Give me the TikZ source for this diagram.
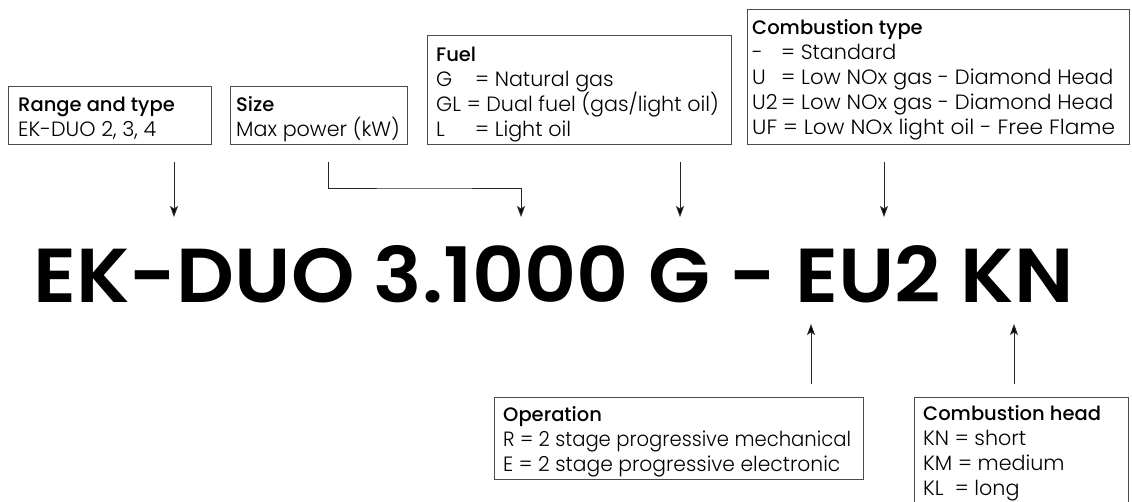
\documentclass[tikz,border=0pt]{standalone}
\usepackage{fontspec}
\setmainfont{Poppins}[UprightFont={* Light}, BoldFont={* Medium}]
\newfontfamily\bigfont{Poppins SemiBold}
\usepackage{graphicx}
\usetikzlibrary{arrows.meta}
\newlength\refw
\newlength\refb
\newlength\cwU
\newlength\cwK
\begin{document}
\settowidth\refw{\fontsize{10}{12}\selectfont GL = Dual fuel (gas/light oil)Max power (kW)U2 = Low NOx gas - Diamond HeadR = 2 stage progressive mechanical}
\settowidth\refb{\fontsize{10}{12}\selectfont\bfseries Range and typeCombustion typeCombustion head}
\pgfmathsetmacro\fsr{11700/\refw}
\pgfmathsetmacro\fsb{5050/\refb}
\newcommand\mytxt{\fontsize{\fsr}{25}\selectfont}
\newcommand\mytitle{\fontsize{\fsb}{25}\selectfont\bfseries}
\newcommand\hsc[2]{\scalebox{#1}[1]{#2}}
\settowidth\cwU{\mytxt U2\,}
\settowidth\cwK{\mytxt KN\ }
\begin{tikzpicture}[x=1pt,y=-1pt,
  frame/.style={draw=black!70, line width=0.9pt, anchor=north west, inner sep=0pt},
  lbl/.style={anchor=base west, inner sep=0pt, font=\mytxt},
  ttl/.style={anchor=base west, inner sep=0pt, font=\mytitle},
  arr/.style={draw=black!85, line width=1pt, -{Stealth[length=11pt,width=8pt,inset=2.5pt,fill=black]}},
]
\useasboundingbox (0,0) rectangle (1132,501);
\clip (0,0) rectangle (1132,501);

% boxes
\node[frame, minimum width=203pt, minimum height=58pt] (rangebox) at (8,86) {};
\node[frame, minimum width=177pt, minimum height=58pt] (sizebox) at (230,86) {};
\node[frame, minimum width=304pt, minimum height=109pt] (fuelbox) at (427,35) {};
\node[frame, minimum width=382pt, minimum height=135pt] (ctbox) at (747,9) {};
\node[frame, minimum width=214pt, minimum height=140pt] (chbox) at (914,397) {};
\node[frame, minimum width=369pt, minimum height=82pt] (opbox) at (494,397) {};

% range
\node[ttl] (rt) at (18,111) {Range and type};
\node[lbl] (r1t) at (18,136) {EK-DUO 2, 3, 4};
% size
\node[ttl] (st) at (236,111) {Size};
\node[lbl] (s1t) at (236,136) {Max power (kW)};
% fuel
\node[ttl] (ft) at (436,61) {Fuel};
\node[lbl] (f1) at (436,86) {\makebox[39pt][l]{G}= Natural gas};
\node[lbl] (f2) at (436,111) {GL = Dual fuel (gas/light oil)};
\node[lbl] (f3) at (436,136) {\makebox[39pt][l]{L}= Light oil};
% combustion type
\node[ttl] (ct) at (752,34) {Combustion type};
\node[lbl] (c1) at (752,59) {\makebox[\cwU][l]{-}= Standard};
\node[lbl] (c2) at (752,84) {\makebox[\cwU][l]{U}\hsc{1.02}{= Low NOx gas - Diamond Head}};
\node[lbl] (c3) at (752,109) {U2\,\hsc{1.02}{= Low NOx gas - Diamond Head}};
\node[lbl] (c4) at (752,134) {\hsc{1.05}{UF = Low NOx light oil - Free Flame}};
% operation
\node[ttl] (ot) at (503,421) {Operation};
\node[lbl] (o1) at (503,446) {\hsc{0.948}{R = 2 stage progressive mechanical}};
\node[lbl] (o2) at (503,471) {\hsc{0.98}{E = 2 stage progressive electronic}};
% combustion head
\node[ttl] (ht) at (923,420) {Combustion head};
\node[lbl] (h1) at (923,445) {KN = short};
\node[lbl] (h2) at (923,470) {KM = medium};
\node[lbl] (h3) at (923,495) {\makebox[\cwK][l]{KL}= long};

% model code
\node[anchor=base west, inner sep=0pt] (model) at (33,302)
  {\resizebox{1040pt}{57pt}{\bigfont EK-DUO 3.1000 G - EU2 KN}};

% connectors
\coordinate (a1s) at (174,162); \coordinate (a1e) at (174,217);
\coordinate (a2s) at (328,162); \coordinate (a2m) at (424,188); \coordinate (a2e) at (521,217);
\coordinate (a3s) at (680,162); \coordinate (a3e) at (680,217);
\coordinate (a4s) at (884,162); \coordinate (a4e) at (884,217);
\coordinate (u1s) at (811,384); \coordinate (u1e) at (811,324);
\coordinate (u2s) at (1014,384); \coordinate (u2e) at (1014,324);
\draw[arr] (a1s) -- (a1e);
\draw[arr] (a2s) |- (a2m) -| (a2e);
\draw[arr] (a3s) -- (a3e);
\draw[arr] (a4s) -- (a4e);
\draw[arr] (u1s) -- (u1e);
\draw[arr] (u2s) -- (u2e);
\end{tikzpicture}
\end{document}
